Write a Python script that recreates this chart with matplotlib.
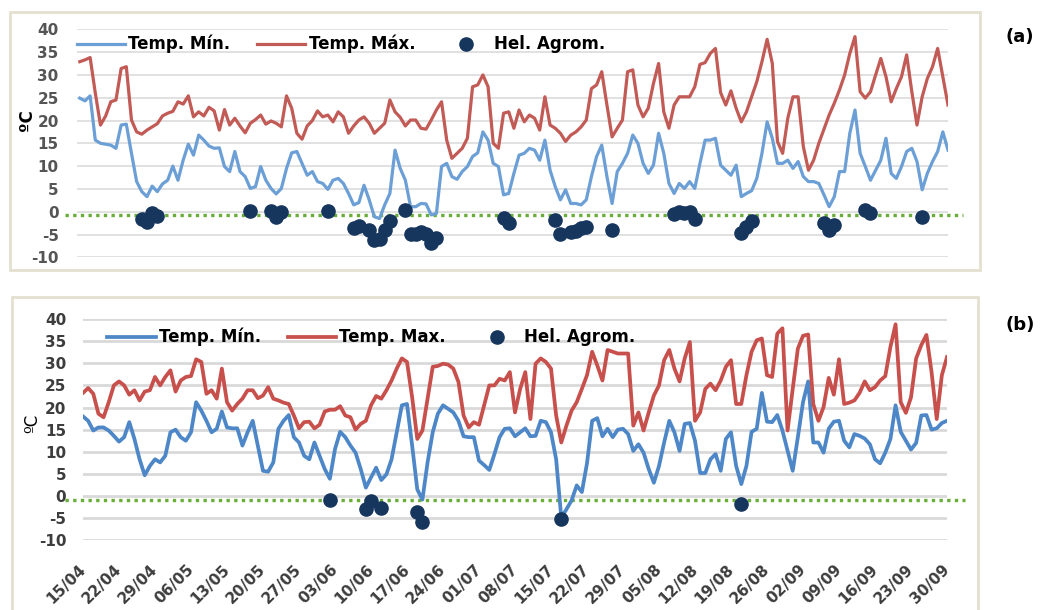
import numpy as np
import matplotlib
matplotlib.use("Agg")
import matplotlib.pyplot as plt
from matplotlib.patches import Rectangle

# daily index, 15/04 .. 30/09 (169 days)
days = np.arange(169)

date_ticks = ["15/04", "22/04", "29/04", "06/05", "13/05", "20/05", "27/05",
              "03/06", "10/06", "17/06", "24/06", "01/07", "08/07", "15/07",
              "22/07", "29/07", "05/08", "12/08", "19/08", "26/08", "02/09",
              "09/09", "16/09", "23/09", "30/09"]

# ---- panel (a) ----
tmin_a = [24.9, 24.3, 25.4, 15.7, 15.0, 14.8, 14.6, 13.9, 19.0, 19.2, 12.8, 6.6, 4.4, 3.3, 5.6, 4.4,
          6.1, 6.9, 10.0, 6.9, 11.3, 14.8, 12.4, 16.8, 15.7, 14.4, 13.9, 14.0, 9.9, 8.8, 13.2, 8.8,
          7.7, 5.1, 5.5, 9.9, 6.9, 5.1, 3.9, 5.1, 9.5, 12.9, 13.2, 10.6, 8.0, 8.8, 6.6, 6.2,
          4.9, 6.9, 7.3, 6.2, 4.0, 1.5, 2.0, 5.8,
          2.6, -1.1, -1.5, 1.5, 4.0, 13.5, 9.5, 6.9, 1.1, 1.1, 1.8, 1.7, -0.7, -0.4, 9.9, 10.6,
          7.7, 7.1, 8.8, 9.9, 12.1, 12.9, 17.5, 15.7, 10.6, 9.9, 3.7, 4.0, 8.4, 12.4, 12.8, 13.9,
          13.5, 11.3, 15.7, 9.1, 5.5, 2.6, 4.8, 1.8, 1.8, 1.5, 2.6, 7.7, 12.1, 14.6, 7.7, 1.8,
          8.8, 10.6, 12.8, 16.8, 15.0, 10.6, 8.4, 10.2,
          17.2, 12.8, 6.2, 4.0, 6.2, 5.1, 6.6, 5.1, 10.6, 15.7, 15.7, 16.1, 10.2, 9.1, 8.0, 10.2,
          3.3, 4.0, 4.6, 7.3, 12.8, 19.7, 16.1, 10.6, 10.6, 11.3, 9.5, 11.0, 7.7, 6.6, 6.6, 6.2,
          3.7, 1.1, 3.3, 8.8, 8.8, 17.2, 22.3, 12.8, 9.9, 6.9, 9.1, 11.3, 16.1, 8.4, 7.3, 9.9,
          13.2, 13.9, 11.0, 4.8, 8.4, 11.0, 13.2, 17.5, 13.5]
tmax_a = [32.9, 33.3, 33.8, 26.0, 19.0, 21.0, 24.1, 24.5, 31.4, 31.8, 20.1, 17.5, 17.0, 17.9, 18.6, 19.3,
          21.0, 21.6, 22.0, 24.1, 23.6, 25.4, 20.8, 21.9, 21.0, 22.9, 22.1, 17.9, 22.4, 19.0, 20.5, 18.8,
          17.3, 19.4, 20.2, 21.2, 19.2, 19.9, 19.4, 18.6, 25.4, 22.7, 17.2, 15.9, 18.8, 20.0, 22.1, 20.8,
          21.2, 19.7, 21.9, 20.8, 17.2, 18.8, 20.1, 20.8,
          19.4, 17.2, 18.3, 19.4, 24.5, 21.9, 20.7, 18.8, 20.1, 20.1, 18.3, 18.1, 20.1, 22.3, 24.1, 15.7,
          11.7, 12.8, 13.9, 16.1, 27.4, 27.8, 30.0, 27.4, 15.0, 13.9, 21.6, 21.9, 18.3, 22.3, 19.7, 21.2,
          20.5, 17.9, 25.2, 19.0, 18.3, 17.2, 15.4, 16.8, 17.5, 18.6, 20.1, 27.0, 27.8, 30.7, 23.4, 16.4,
          18.3, 20.1, 30.7, 31.1, 23.4, 20.8, 22.7, 28.1,
          32.5, 21.9, 18.3, 23.4, 25.2, 25.2, 25.2, 27.4, 32.3, 32.7, 34.7, 35.8, 26.1, 23.4, 26.5, 22.7,
          19.7, 21.9, 25.2, 28.5, 32.9, 37.8, 32.5, 15.4, 12.8, 20.5, 25.2, 25.2, 14.3, 9.1, 11.3, 15.0,
          18.1, 21.2, 23.8, 26.7, 30.0, 34.7, 38.4, 26.3, 24.9, 26.3, 30.0, 33.6, 29.6, 24.1, 27.0, 29.6,
          34.4, 26.3, 19.0, 25.2, 29.2, 31.8, 35.8, 29.6, 23.4]
hel_days_a = [12, 13, 14, 15, 33, 37, 38, 39, 48, 53, 54, 56, 57, 58, 59, 60, 63, 64, 65, 66, 67, 68, 69,
              82, 83, 92, 93, 95, 96, 97, 98, 103, 115, 116, 117, 118, 119, 128, 129, 130,
              144, 145, 146, 152, 153, 163]
hel_vals_a = [-1.5, -2.3, -0.2, -1.0, 0.2, 0.2, -1.1, 0.0, 0.2, -3.5, -3.2, -4.0, -6.2, -6.0, -4.0, -2.0,
              0.3, -4.8, -4.8, -4.5, -4.8, -6.8, -5.8, -1.3, -2.5, -1.8, -4.8, -4.4, -4.2, -3.6, -3.3,
              -4.0, -0.5, 0.0, -0.3, 0.0, -1.6, -4.6, -3.3, -2.0, -2.4, -4.0, -3.0, 0.3, -0.2, -1.1]
frost_a = -0.7

# ---- panel (b) ----
tmin_b = [18.0, 17.0, 14.8, 15.5, 15.5, 14.8, 13.6, 12.3, 13.3, 16.7, 12.9, 8.3, 4.7, 6.8, 8.3, 7.6,
          9.1, 14.4, 15.0, 13.3, 12.5, 14.4, 21.2, 19.3, 17.0, 14.4, 15.2, 19.1, 15.5, 15.3, 15.3, 11.4,
          14.4, 17.0, 11.4, 5.7, 5.5, 7.6, 15.2, 17.0, 18.3, 13.3, 12.1, 9.1, 8.3, 12.1, 9.1, 6.1,
          3.9, 10.6, 14.5, 13.3, 11.4, 9.8, 6.1,
          1.9, 4.2, 6.4, 3.6, 4.9, 8.3, 14.4, 20.5, 20.8, 11.4, 1.5, -0.8, 7.6, 14.4, 18.6, 20.5,
          19.7, 18.9, 17.0, 13.5, 13.3, 13.3, 8.0, 7.0, 5.9, 9.5, 13.3, 15.2, 15.3, 13.5, 14.4, 15.3,
          13.5, 13.6, 17.0, 16.7, 14.4, 8.3, -4.9, -3.0, -1.0, 2.4, 0.9, 7.4, 17.0, 17.6, 13.5, 15.2,
          13.3, 15.0, 15.2, 14.0, 10.2, 11.7, 9.8, 6.1, 3.0,
          6.8, 12.1, 17.0, 14.4, 10.2, 16.3, 16.5, 12.5, 5.2, 5.2, 8.3, 9.5, 5.7, 12.9, 14.4, 6.8,
          2.7, 6.8, 14.5, 15.2, 23.3, 16.8, 16.7, 18.3, 14.8, 10.2, 5.7, 13.3, 21.2, 25.9, 12.1, 12.1,
          9.8, 15.2, 16.8, 17.0, 12.5, 11.0, 14.0, 13.6, 13.0, 11.7, 8.3, 7.4, 9.8, 12.9, 20.5, 14.5,
          12.5, 10.5, 12.0, 18.2, 18.3, 15.0, 15.3, 16.5, 17.0]
tmax_b = [23.3, 24.4, 23.1, 18.6, 17.8, 21.2, 25.0, 25.9, 25.0, 22.9, 23.9, 21.6, 23.6, 23.9, 26.9, 25.0,
          26.9, 28.4, 23.6, 26.1, 26.9, 27.1, 30.9, 30.3, 23.1, 23.9, 22.0, 28.8, 21.2, 19.3, 20.8, 22.0,
          23.9, 23.9, 22.1, 22.7, 24.6, 22.0, 21.6, 21.1, 20.8, 18.2, 15.3, 16.7, 16.8, 15.3, 16.1, 19.1,
          19.5, 19.5, 20.3, 18.2, 17.8, 15.0, 16.3,
          17.0, 20.5, 22.6, 22.0, 23.9, 26.1, 28.8, 31.1, 30.3, 22.3, 12.9, 14.8, 22.0, 29.2, 29.4, 29.9,
          29.7, 28.8, 25.8, 18.2, 15.5, 16.7, 16.1, 20.5, 25.0, 25.0, 26.5, 26.1, 28.0, 18.9, 24.2, 28.0,
          17.4, 29.9, 31.1, 30.3, 28.8, 18.2, 12.1, 15.9, 19.3, 21.2, 24.2, 27.3, 32.6, 29.5, 26.1, 33.0,
          32.6, 32.2, 32.2, 32.2, 15.9, 18.9, 14.8, 18.9, 22.7,
          25.0, 30.7, 33.0, 28.8, 25.9, 31.1, 34.8, 17.0, 18.9, 24.2, 25.4, 23.9, 26.1, 29.2, 30.7, 20.8,
          20.8, 27.3, 32.6, 35.2, 35.6, 27.3, 26.9, 36.7, 37.9, 14.8, 24.2, 33.3, 36.2, 36.5, 20.8, 17.0,
          20.1, 26.7, 22.9, 30.9, 20.8, 21.1, 21.6, 23.3, 25.9, 23.9, 24.6, 26.1, 27.1, 33.7, 38.8, 21.2,
          18.8, 22.3, 31.1, 34.1, 36.4, 28.0, 17.4, 27.3, 31.4]
hel_days_b = [48, 55, 56, 58, 65, 66, 93, 128]
hel_vals_b = [-0.8, -3.0, -1.1, -2.8, -3.6, -5.9, -5.1, -1.8]
frost_b = -1.0

W, H = 1046, 610
plt.rcParams['font.family'] = ['DejaVu Sans']
plt.rcParams['axes.unicode_minus'] = False
fig = plt.figure(figsize=(W / 100, H / 100), dpi=100)

# panel frames
for x0, y0, x1, y1 in [(10, 12, 980, 270), (12, 297, 978, 625)]:
    fig.add_artist(Rectangle((x0 / W, 1 - y1 / H), (x1 - x0) / W, (y1 - y0) / H,
                             transform=fig.transFigure, fill=False,
                             ec='#e3e0cf', lw=2.0))


def panel(rect, tmin, tmax, hd, hv, frost, cmin, cmax, lw, gridlw, maxlabel,
          tickcol, legend_pos, green_ext):
    ax = fig.add_axes(rect)
    ax.set_axisbelow(True)
    ax.yaxis.grid(True, color='#d9d9d9', lw=gridlw)
    for s in ax.spines.values():
        s.set_visible(False)
    ax.axhline(frost, xmin=green_ext[0], xmax=green_ext[1], color='#6aae3a',
               lw=2.4, ls=(0, (1, 1.3)), clip_on=False, zorder=2)
    l1, = ax.plot(days, tmin, color=cmin, lw=lw, zorder=3,
                  solid_joinstyle='round', label='Temp. Mín.')
    l2, = ax.plot(days, tmax, color=cmax, lw=lw, zorder=3,
                  solid_joinstyle='round', label=maxlabel)
    l3, = ax.plot(hd, hv, 'o', color='#17365d', ms=9.5, zorder=4,
                  label='Hel. Agrom.')
    ax.set_ylim(-10, 40)
    ax.set_yticks(np.arange(-10, 41, 5))
    ax.tick_params(length=0)
    for t in ax.get_yticklabels():
        t.set_fontweight('bold')
        t.set_color(tickcol)
        t.set_fontsize(11)
    ax.legend(handles=[l1, l2, l3], loc='center left', bbox_to_anchor=legend_pos,
              ncol=3, frameon=False, prop={'weight': 'bold', 'size': 12},
              handlelength=2.9, handletextpad=0.2, columnspacing=1.6,
              borderaxespad=0, borderpad=0)
    return ax


# (a)
axa = panel([76.7 / W, 1 - 257.3 / H, 871.3 / W, 228 / H], tmin_a, tmax_a,
            hel_days_a, hel_vals_a, frost_a, '#6b9fd6', '#c25a56', 2.3, 1.1,
            'Temp. Máx.', '#555555', (0.0, 0.935), (-0.013, 1.017))
axa.set_xlim(-0.6, 168)
axa.set_xticks([])
axa.tick_params(axis='y', pad=13)

# (b)
axb = panel([83 / W, 1 - 540.3 / H, 864 / W, 221.3 / H], tmin_b, tmax_b,
            hel_days_b, hel_vals_b, frost_b, '#4d87c7', '#c8504c', 2.7, 2.0,
            'Temp. Max.', '#3d3d3d', (0.028, 0.918), (-0.021, 1.021))
axb.set_xlim(0, 168)
axb.set_xticks(days[::7])
axb.set_xticklabels(date_ticks, rotation=45, ha='right', va='center',
                    rotation_mode='anchor', fontsize=11, fontweight='bold',
                    color='#3d3d3d')
axb.tick_params(axis='x', pad=19)
axb.tick_params(axis='y', pad=12)

fig.text(27 / W, 1 - 120 / H, 'ºC', rotation=90, ha='center', va='center',
         fontsize=12, fontweight='bold')
fig.text(32 / W, 1 - 423 / H, 'ºC', rotation=90, ha='center', va='center',
         fontsize=12)
fig.text(1020 / W, 1 - 37 / H, '(a)', ha='center', va='center',
         fontsize=13, fontweight='bold')
fig.text(1020 / W, 1 - 325 / H, '(b)', ha='center', va='center',
         fontsize=13, fontweight='bold')

fig.savefig('out.png', dpi=100)
